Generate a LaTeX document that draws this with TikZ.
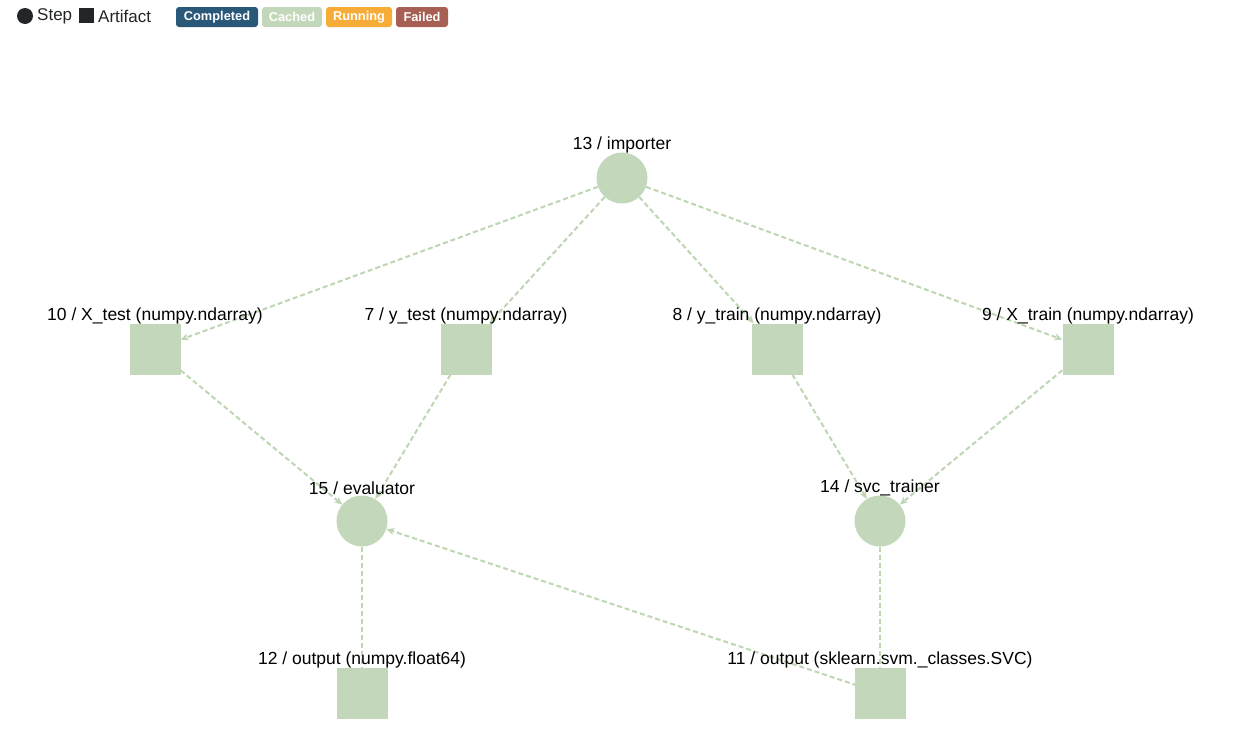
\documentclass[tikz,border=0pt]{standalone}
\usepackage{fontspec}
\setmainfont{Liberation Sans}
\usetikzlibrary{arrows.meta,backgrounds}
\definecolor{nodegreen}{HTML}{C3D8BA}
\definecolor{edgegreen}{HTML}{BED6B4}
\definecolor{legdark}{HTML}{222629}
\definecolor{cCompleted}{HTML}{2A5878}
\definecolor{cCached}{HTML}{C3D8BA}
\definecolor{cRunning}{HTML}{F6AC36}
\definecolor{cFailed}{HTML}{A75E53}
\tikzset{
  stepnode/.style={circle,fill=nodegreen,minimum size=51pt,inner sep=0pt},
  artnode/.style={rectangle,fill=nodegreen,minimum size=51pt,inner sep=0pt},
  lbl/.style={font=\fontsize{17.5}{20}\selectfont,inner sep=0pt,text=black},
  flow/.style={draw=edgegreen,line width=2pt,dash pattern=on 5pt off 3pt,
    -{Stealth[length=8pt,width=7pt]}},
  plain/.style={draw=edgegreen,line width=2pt,dash pattern=on 5pt off 3pt},
  badge/.style={rounded corners=3pt,inner sep=0pt,minimum height=20pt,
    font=\fontsize{12.8}{14}\selectfont\bfseries,text=white},
  legtext/.style={font=\fontsize{17}{19}\selectfont,inner sep=0pt,text=legdark,anchor=west}
}
\begin{document}
\begin{tikzpicture}[x=1pt,y=-1pt]
\useasboundingbox (0,0) rectangle (1244,750);

% legend
\node[circle,fill=legdark,minimum size=16pt,inner sep=0pt] (legstep) at (25,16) {};
\node[legtext] (legsteptxt) at (37,16) {Step};
\node[rectangle,fill=legdark,minimum size=15pt,inner sep=0pt] (legart) at (86.5,15.5) {};
\node[legtext] (legarttxt) at (98,16) {Artifact};
\node[badge,fill=cCompleted,minimum width=82pt] (bcomp) at (217,17) {Completed};
\node[badge,fill=cCached,minimum width=60pt] (bcache) at (292,17) {Cached};
\node[badge,fill=cRunning,minimum width=66pt] (brun) at (359,17) {Running};
\node[badge,fill=cFailed,minimum width=52pt] (bfail) at (422,17) {Failed};

% steps
\node[stepnode] (imp) at (622,178) {};
\node[stepnode] (ev) at (362,521) {};
\node[stepnode] (svc) at (880,521) {};
% artifacts
\node[artnode] (xtest) at (155,349) {};
\node[artnode] (ytest) at (466,349) {};
\node[artnode] (ytrain) at (777,349) {};
\node[artnode] (xtrain) at (1088,349) {};
\node[artnode] (out12) at (362,693) {};
\node[artnode] (out11) at (880,693) {};

% labels
\node[lbl] (limp) at (622,145) {13 / importer};
\node[lbl] (lxtest) at (155,316) {10 / X\_test (numpy.ndarray)};
\node[lbl] (lytest) at (466,316) {7 / y\_test (numpy.ndarray)};
\node[lbl] (lytrain) at (777,316) {8 / y\_train (numpy.ndarray)};
\node[lbl] (lxtrain) at (1088,316) {9 / X\_train (numpy.ndarray)};
\node[lbl] (lev) at (362,488) {15 / evaluator};
\node[lbl] (lsvc) at (880,488) {14 / svc\_trainer};
\node[lbl] (l12) at (362,660) {12 / output (numpy.float64)};
\node[lbl] (l11) at (880,660) {11 / output (sklearn.svm.\_classes.SVC)};

% connectors, kept behind the nodes
\begin{pgfonlayer}{background}
\fill[white] (0,0) rectangle (1244,750);
\draw[flow] (imp) -- (xtest);
\draw[flow] (imp) -- (ytest);
\draw[flow] (imp) -- (ytrain);
\draw[flow] (imp) -- (xtrain);
\draw[flow] (xtest) -- (ev);
\draw[flow] (ytest) -- (ev);
\draw[flow] (ytrain) -- (svc);
\draw[flow] (xtrain) -- (svc);
\draw[plain] (ev) -- (out12.north);
\draw[plain] (svc) -- (out11.north);
\draw[flow] (out11.center) -- (ev);
\end{pgfonlayer}
\end{tikzpicture}
\end{document}
